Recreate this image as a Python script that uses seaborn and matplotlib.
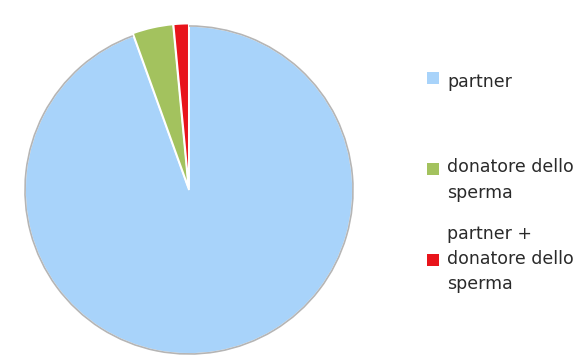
import matplotlib
matplotlib.use("Agg")
import matplotlib.pyplot as plt
import matplotlib.patches as mpatches
import seaborn as sns

labels = ["partner", "donatore dello\nsperma", "partner +\ndonatore dello\nsperma"]
values = [94.5, 4.0, 1.5]
colors = ["#a8d3fa", "#a3c25e", "#e8141b"]

sns.set_theme(style="white")
plt.rcParams["font.family"] = ["DejaVu Sans"]

W, H = 585, 356
fig = plt.figure(figsize=(W / 100, H / 100), dpi=100)

# pie disc: centre (189, 190) px, radius 164 px
cx, cy, r = 189, 190, 164
ax = fig.add_axes([(cx - r) / W, 1 - (cy + r) / H, 2 * r / W, 2 * r / H])

wedges, _ = ax.pie(
    values,
    colors=colors,
    startangle=90,
    counterclock=False,
    explode=[0, 0.015, 0.015],
    wedgeprops=dict(edgecolor="white", linewidth=1.3),
)
for w in wedges:
    w.set_clip_on(False)
# soft grey rim around the main slice
ax.add_patch(mpatches.Arc((0, 0), 2.0, 2.0, theta1=-250, theta2=90,
                          edgecolor="#b5b5b5", linewidth=1.2, zorder=5,
                          clip_on=False))
ax.set_aspect("equal")
ax.set_xlim(-1.0, 1.0)
ax.set_ylim(-1.0, 1.0)
ax.axis("off")

# legend: square swatch + wrapped label for each slice
marker_x = 433
marker_y = [78, 169, 260]
text_y = [82, 180, 259]
text_x = 447
sz = 12
for wedge, lab, my, ty in zip(wedges, labels, marker_y, text_y):
    fig.patches.append(mpatches.Rectangle(
        ((marker_x - sz / 2) / W, 1 - (my + sz / 2) / H), sz / W, sz / H,
        transform=fig.transFigure, facecolor=wedge.get_facecolor(),
        edgecolor="none"))
    fig.text(text_x / W, 1 - ty / H, lab, ha="left", va="center",
             fontsize=12.5, color="#2a2a2a", linespacing=1.5)

fig.savefig("out.png", dpi=100, facecolor="white")
